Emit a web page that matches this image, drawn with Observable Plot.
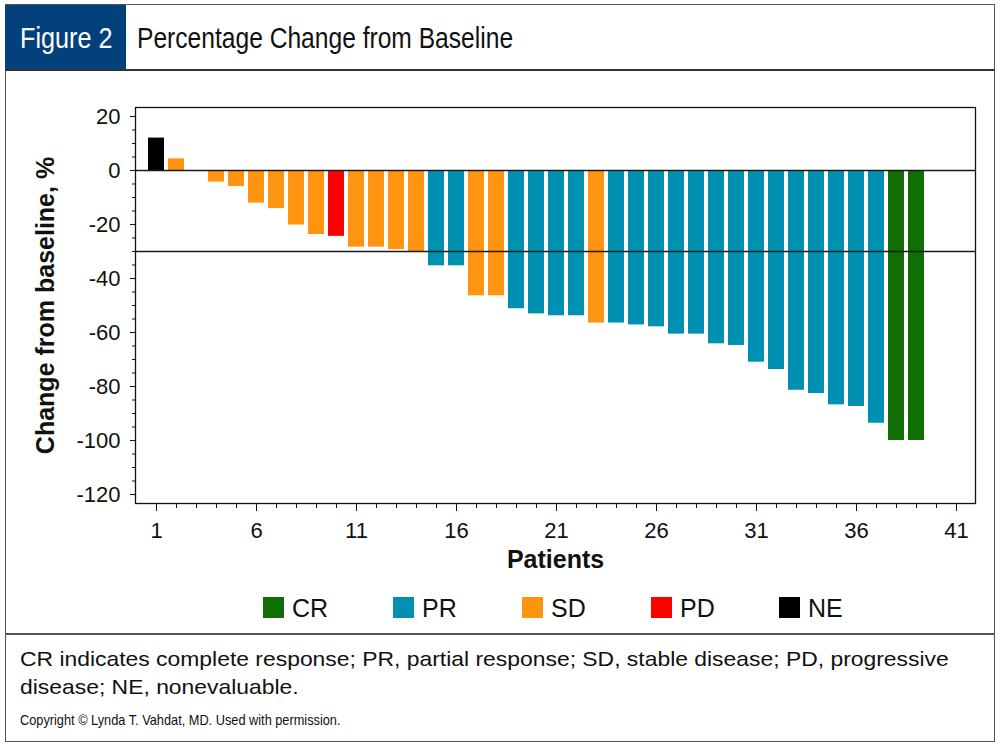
<!DOCTYPE html>
<html>
<head>
<meta charset="utf-8">
<script src="https://cdn.jsdelivr.net/npm/d3@7"></script>
<script src="https://cdn.jsdelivr.net/npm/@observablehq/plot@0.6"></script>
<style>
  html, body { margin: 0; padding: 0; background: #fff; }
  body { width: 1000px; height: 748px; position: relative; overflow: hidden; font-family: "Liberation Sans", Arial, Helvetica, sans-serif; }
  #outer { position: absolute; left: 5px; top: 4px; width: 988px; height: 736px; border: 1.5px solid #555; box-sizing: content-box; }
  #figbox { position: absolute; left: 5px; top: 5px; width: 121px; height: 65px; background: #02417c; }
  #figtext { position: absolute; left: 20px; top: 5px; height: 65px; line-height: 65px; color: #fff; font-size: 30px;
             transform: scaleX(0.84); transform-origin: left center; white-space: nowrap; }
  #title { position: absolute; left: 137px; top: 5px; height: 65px; line-height: 65px; color: #111; font-size: 30px;
           transform: scaleX(0.82); transform-origin: left center; white-space: nowrap; }
  #hline { position: absolute; left: 5px; top: 69px; width: 990px; height: 2px; background: #333; }
  #chart { position: absolute; left: 0; top: 71px; }
  #legend { position: absolute; left: 0; top: 592px; width: 1000px; height: 32px; }
  .sw { position: absolute; top: 5px; width: 21px; height: 21px; }
  .lt { position: absolute; top: 0; font-size: 25px; line-height: 32px; color: #111; }
  #fline { position: absolute; left: 5px; top: 633px; width: 990px; height: 1.5px; background: #555; }
  #note { position: absolute; left: 20px; top: 645px; width: 870px; font-size: 21px; line-height: 28px; color: #111;
          transform: scaleX(1.09); transform-origin: left top; }
  #copy { position: absolute; left: 20px; top: 712px; font-size: 14.5px; color: #111; white-space: nowrap;
          transform: scaleX(0.88); transform-origin: left top; }
</style>
</head>
<body>
<div id="outer"></div>
<div id="figbox"></div>
<div id="figtext">Figure 2</div>
<div id="title">Percentage Change from Baseline</div>
<div id="hline"></div>
<div id="chart"></div>
<div id="legend"></div>
<div id="fline"></div>
<div id="note">CR indicates complete response; PR, partial response; SD, stable disease; PD, progressive disease; NE, nonevaluable.</div>
<div id="copy">Copyright © Lynda T. Vahdat, MD. Used with permission.</div>
<script>
// ---- data ----
const patients = [1, 2, 4, 5, 6, 7, 8, 9, 10, 11, 12, 13, 14, 15, 16, 17, 18, 19, 20, 21, 22, 23, 24, 25, 26, 27, 28, 29, 30, 31, 32, 33, 34, 35, 36, 37, 38, 39];
const changes = [12, 4.3, -4.3, -5.9, -12.1, -14.1, -20.2, -23.7, -24.4, -28.4, -28.4, -29.3, -30, -35.3, -35.3, -46.4, -46.4, -51.2, -53.1, -53.8, -53.8, -56.5, -56.5, -57.2, -57.9, -60.6, -60.6, -64.2, -64.8, -71.0, -73.7, -81.4, -82.6, -86.8, -87.4, -93.6, -100, -100];
const responses = ["NE", "SD", "SD", "SD", "SD", "SD", "SD", "SD", "PD", "SD", "SD", "SD", "SD", "PR", "PR", "SD", "SD", "PR", "PR", "PR", "PR", "SD", "PR", "PR", "PR", "PR", "PR", "PR", "PR", "PR", "PR", "PR", "PR", "PR", "PR", "PR", "CR", "CR"];
const categories = ["CR", "PR", "SD", "PD", "NE"];
const colors = ["#0f6e04", "#0090b2", "#ff9410", "#ff0000", "#000000"];
const yMajorTicks = [20, 0, -20, -40, -60, -80, -100, -120];
const yMinorTicks = d3.range(-120, 21, 5);
const xMajorTicks = [1, 6, 11, 16, 21, 26, 31, 36, 41];
const xMinorTicks = d3.range(1, 42, 1);
const refLines = [0, -30];

const data = patients.map((p, i) => ({patient: p, change: changes[i], response: responses[i]}));

const chart = Plot.plot({
  width: 1000,
  height: 504,
  marginLeft: 135,
  marginRight: 25,
  marginTop: 36,
  marginBottom: 72,
  x: {domain: [-0.05, 41.95]},
  y: {domain: [-123.33, 23.33]},
  color: {domain: categories, range: colors},
  style: {fontFamily: "'Liberation Sans', Arial, sans-serif", background: "transparent", color: "#111"},
  marks: [
    Plot.rectY(data, {x1: d => d.patient - 0.4, x2: d => d.patient + 0.4, y1: 0, y2: "change", fill: "response"}),
    Plot.ruleY(refLines, {stroke: "#1a1a1a", strokeWidth: 1.6}),
    Plot.frame({stroke: "#111", strokeWidth: 1.3}),
    Plot.axisY(yMinorTicks, {tickSize: 3, tickFormat: () => "", label: null}),
    Plot.axisY(yMajorTicks, {tickSize: 5, tickPadding: 10, fontSize: 22, tickFormat: d => String(d), label: null}),
    Plot.axisX(xMinorTicks, {tickSize: 5, tickFormat: () => "", label: null}),
    Plot.axisX(xMajorTicks, {tickSize: 8, tickPadding: 11, fontSize: 22, tickFormat: d => String(d), label: null}),
    Plot.text(["Patients"], {text: d => d, frameAnchor: "bottom", dy: 64, fontSize: 25, fontWeight: "bold"}),
    Plot.text(["Change from baseline, %"], {text: d => d, frameAnchor: "left", textAnchor: "middle", dx: -90, rotate: -90, fontSize: 25, fontWeight: "bold"})
  ]
});
document.getElementById("chart").appendChild(chart);

// legend
const legend = document.getElementById("legend");
const lefts = [263, 393, 522, 651, 779];
categories.forEach((c, i) => {
  const sw = document.createElement("div");
  sw.className = "sw";
  sw.style.left = lefts[i] + "px";
  sw.style.background = colors[i];
  legend.appendChild(sw);
  const t = document.createElement("div");
  t.className = "lt";
  t.style.left = (lefts[i] + 29) + "px";
  t.textContent = c;
  legend.appendChild(t);
});
</script>
</body>
</html>
